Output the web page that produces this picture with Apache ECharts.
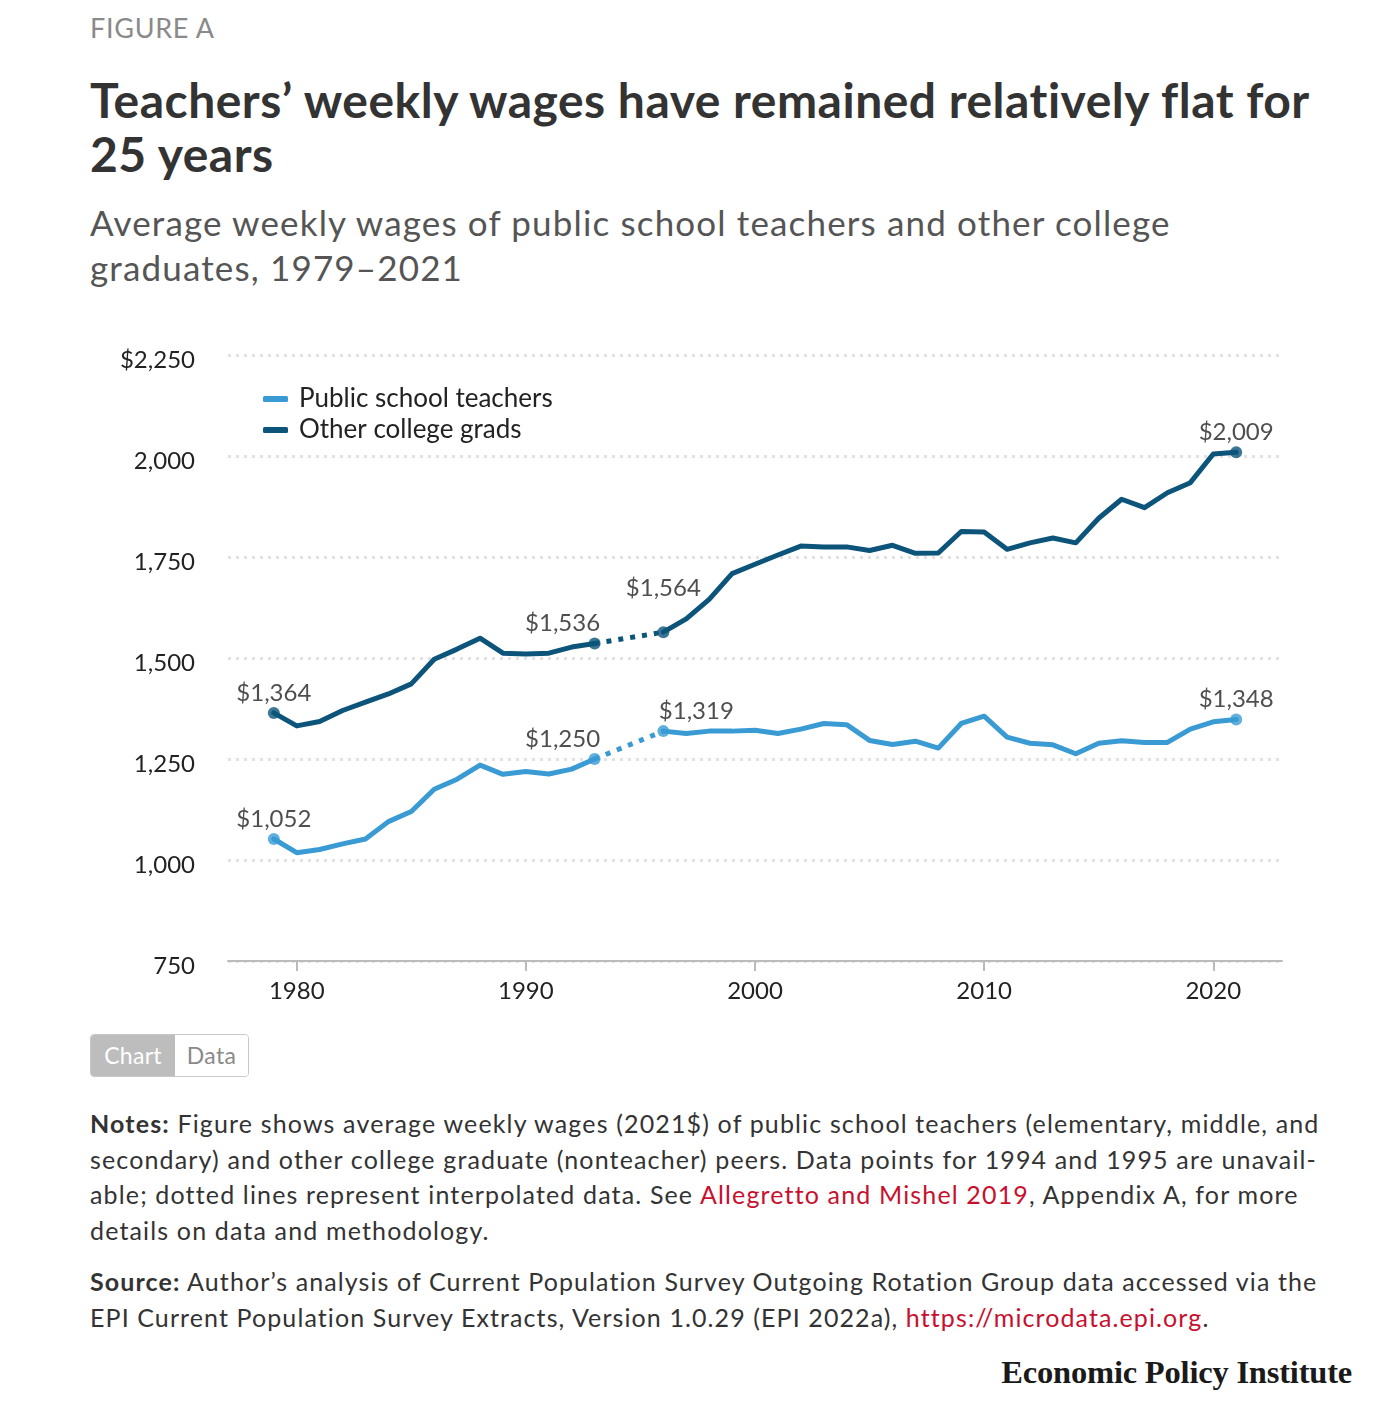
<!DOCTYPE html>
<html><head><meta charset="utf-8">
<script src="https://cdn.jsdelivr.net/npm/echarts@6/dist/echarts.min.js"></script>
<style>
html,body{margin:0;padding:0;background:#fff}
body{width:1385px;height:1415px;position:relative;overflow:hidden;font-family:Lato,"Noto Sans",sans-serif}
.abs{position:absolute;white-space:nowrap}
.red{color:#c8102e}
#toggle{position:absolute;left:90px;top:1034px;height:41px;border:1px solid #c8c8c8;border-radius:4px;overflow:hidden;display:flex;font-size:23px;line-height:41px;letter-spacing:0.3px}
#toggle span{display:block;text-align:center}
#toggle .on{background:#bdbdbd;color:#fff;width:84px}
#toggle .off{background:#fff;color:#8a8a8a;width:73px}
</style></head><body>
<div class="abs" style="left:90px;top:11px;font-size:27px;line-height:34px;color:#8a8a8a;letter-spacing:0.7px">FIGURE A</div>
<div class="abs" style="left:90px;top:73px;font-size:48px;line-height:54px;font-weight:700;color:#333;letter-spacing:0.5px">Teachers’ weekly wages have remained relatively flat for<br>25 years</div>
<div class="abs" style="left:90px;top:200px;font-size:35px;line-height:45px;color:#555;letter-spacing:1.15px">Average weekly wages of public school teachers and other college<br>graduates, 1979–2021</div>
<div id="chart" style="position:absolute;left:0;top:330px;width:1385px;height:700px"></div>
<div id="toggle"><span class="on">Chart</span><span class="off">Data</span></div>
<div class="abs" style="left:90px;top:1106px;font-size:25px;line-height:35.7px;color:#333;letter-spacing:1.15px"><b>Notes:</b> Figure shows average weekly wages (2021$) of public school teachers (elementary, middle, and<br>secondary) and other college graduate (nonteacher) peers. Data points for 1994 and 1995 are unavail-<br>able; dotted lines represent interpolated data. See <span class="red">Allegretto and Mishel 2019</span>, Appendix A, for more<br>details on data and methodology.</div>
<div class="abs" style="left:90px;top:1263px;font-size:25px;line-height:36px;color:#333;letter-spacing:1.1px"><b>Source:</b> Author’s analysis of Current Population Survey Outgoing Rotation Group data accessed via the<br>EPI Current Population Survey Extracts, Version 1.0.29 (EPI 2022a), <span class="red">https://microdata.epi.org</span>.</div>
<div class="abs" style="right:33px;top:1352px;font-family:'Liberation Serif',serif;font-weight:700;font-size:32.5px;line-height:40px;color:#1a1a1a;letter-spacing:-0.2px">Economic Policy Institute</div>
<script>
// ---- data ----
const years = [1979,1980,1981,1982,1983,1984,1985,1986,1987,1988,1989,1990,1991,1992,1993,
  1996,1997,1998,1999,2000,2001,2002,2003,2004,2005,2006,2007,2008,2009,2010,2011,2012,2013,2014,2015,2016,2017,2018,2019,2020,2021];
const teachers = [1052,1018,1026,1040,1052,1095,1120,1175,1200,1235,1212,1219,1213,1225,1250,
  1319,1313,1319,1319,1321,1313,1324,1338,1335,1296,1286,1294,1277,1338,1356,1304,1289,1285,1263,1289,1295,1291,1291,1324,1342,1348];
const grads = [1364,1332,1343,1370,1391,1411,1436,1497,1522,1549,1512,1510,1512,1527,1536,
  1564,1597,1645,1709,1732,1755,1777,1775,1775,1766,1779,1759,1760,1813,1812,1769,1785,1797,1785,1846,1893,1872,1909,1934,2005,2009];
const seriesNames = ['Public school teachers','Other college grads'];
const yTicks = [750,1000,1250,1500,1750,2000,2250];
const xTicks = [1980,1990,2000,2010,2020];
const gapBefore = 1993, gapAfter = 1996;

// ---- styling ----
const colors = {teachers:'#3a9bd4', grads:'#0d547b'};
const fontFam = 'Lato, "Noto Sans", sans-serif';
const iBefore = years.indexOf(gapBefore), iAfter = years.indexOf(gapAfter), iLast = years.length-1;

function solidData(vals){
  const out = [];
  years.forEach((y,i)=>{ out.push([y, vals[i]]); if (i === iBefore) out.push([(gapBefore+gapAfter)/2, '-']); });
  return out;
}
function fmt(v){ return '$' + v.toLocaleString('en-US'); }
function endPoints(vals, offsets){
  return [0,iBefore,iAfter,iLast].map((idx,k)=>({
    value:[years[idx], vals[idx]],
    label:{offset:offsets[k].off, distance:offsets[k].dist}
  }));
}
const lblTeach = [{off:[0,0],dist:2},{off:[-32,0],dist:2},{off:[33,0],dist:2},{off:[0,0],dist:2}];
const lblGrad  = [{off:[0,0],dist:2},{off:[-32,0],dist:2},{off:[0,0],dist:26},{off:[0,0],dist:2}];

function makeSeries(name, vals, color, lbl, z){
  return [
    {name:name, type:'line', data:solidData(vals), showSymbol:false, symbol:'none', connectNulls:false,
     lineStyle:{color:color, width:5, cap:'round', join:'round'}, itemStyle:{color:color}, z:z, animation:false},
    {name:name+' (interpolated)', type:'line', data:[[years[iBefore],vals[iBefore]],[years[iAfter],vals[iAfter]]],
     symbol:'none', lineStyle:{color:color, width:5, type:[5,7]}, z:z, animation:false},
    {name:name+' (ends)', type:'scatter', data:endPoints(vals,lbl), symbolSize:12, itemStyle:{color:color}, z:z+1, animation:false,
     label:{show:true, position:'top', formatter:p=>fmt(p.value[1]), fontFamily:fontFam, fontSize:24, color:'#222'}}
  ];
}

const chart = echarts.init(document.getElementById('chart'), null, {renderer:'canvas'});
chart.setOption({
  backgroundColor:'transparent',
  animation:false,
  grid:{left:228, right:103, top:25, bottom:69, containLabel:false},
  legend:{
    data:seriesNames, orient:'vertical', left:258, top:51, itemGap:5, itemWidth:25, itemHeight:6,
    icon:'roundRect', selectedMode:false,
    textStyle:{fontFamily:fontFam, fontSize:26, color:'#222', padding:[0,0,0,6]}
  },
  xAxis:{
    type:'value', min:1977, max:2023,
    axisLine:{show:true, lineStyle:{color:'#bbb', width:2}},
    axisTick:{show:true, customValues:xTicks, length:10, lineStyle:{color:'#bbb', width:2}},
    axisLabel:{customValues:xTicks, margin:18, fontFamily:fontFam, fontSize:24, color:'#222', formatter:v=>String(v)},
    splitLine:{show:false}
  },
  yAxis:{
    type:'value', min:yTicks[0], max:yTicks[yTicks.length-1], interval:250,
    axisLine:{show:false}, axisTick:{show:false},
    axisLabel:{margin:33, fontFamily:fontFam, fontSize:24, color:'#222',
      formatter:v=> '{t|' + (v===yTicks[yTicks.length-1] ? fmt(v) : v.toLocaleString('en-US')) + '}',
      rich:{t:{fontFamily:fontFam, fontSize:24, color:'#222', padding:[11,0,0,0]}}},
    splitLine:{show:true, lineStyle:{color:'#e2e2e2', width:3, type:[3,5]}}
  },
  series:[].concat(
    makeSeries(seriesNames[0], teachers, colors.teachers, lblTeach, 3),
    makeSeries(seriesNames[1], grads, colors.grads, lblGrad, 5)
  )
});
</script>
</body></html>
